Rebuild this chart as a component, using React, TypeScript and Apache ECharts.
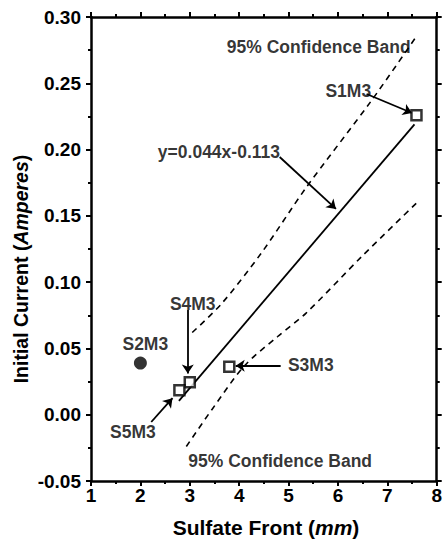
import React, { useEffect, useRef } from "react";
import * as echarts from "echarts";

// Measured samples: [sulfate front (mm), initial current (A)]
const squarePoints: [number, number][] = [
  [7.59, 0.2258], // S1M3
  [3.8, 0.0362], // S3M3
  [3.0, 0.0244], // S4M3
  [2.79, 0.0184], // S5M3
];
const circlePoints: [number, number][] = [[2.0, 0.039]]; // S2M3

// Fit line y=0.044x-0.113 as drawn (end points)
const fitLine: [number, number][] = [
  [2.78, 0.0105],
  [7.55, 0.219],
];

// 95% confidence bands
const upperBand: [number, number][] = [
  [3.05, 0.062],
  [3.65, 0.084],
  [4.45, 0.122],
  [5.35, 0.171],
  [6.68, 0.237],
  [7.6, 0.286],
];
const lowerBand: [number, number][] = [
  [2.93, -0.024],
  [3.45, 0.004],
  [4.11, 0.037],
  [4.78, 0.059],
  [5.35, 0.0765],
  [6.5, 0.12],
  [7.6, 0.16],
];

// Annotation texts at data positions
const annotationTexts: { name: string; value: [number, number] }[] = [
  { name: "95% Confidence Band", value: [5.61, 0.2774] },
  { name: "S1M3", value: [6.21, 0.2442] },
  { name: "y=0.044x-0.113", value: [3.59, 0.1982] },
  { name: "S4M3", value: [3.06, 0.0835] },
  { name: "S2M3", value: [2.1, 0.0533] },
  { name: "S3M3", value: [5.45, 0.0375] },
  { name: "S5M3", value: [1.85, -0.013] },
  { name: "95% Confidence Band", value: [4.83, -0.035] },
];

// Arrows: from text to target
const arrows: [number, number][][] = [
  [[6.58, 0.2419], [7.5, 0.2276]],
  [[4.82, 0.1944], [5.96, 0.1552]],
  [[2.96, 0.079], [2.96, 0.031]],
  [[4.84, 0.037], [3.93, 0.037]],
  [[2.22, -0.0055], [2.65, 0.0125]],
];

const xTicks = { min: 1, max: 8, interval: 1 };
const yTicks = { min: -0.05, max: 0.3, interval: 0.05 };

const FONT = "'Liberation Sans', Arial, Helvetica, sans-serif";

export default function App() {
  const ref = useRef<HTMLDivElement>(null);
  useEffect(() => {
    if (!ref.current) return;
    const chart = echarts.init(ref.current, null, { renderer: "svg" });
    const axisLine = { show: true, onZero: false, lineStyle: { color: "#000", width: 2.5 } };
    const axisTick = { show: true, inside: false, length: 5, lineStyle: { color: "#000", width: 2 } };
    const minorTick = { show: true, splitNumber: 2, length: 3, lineStyle: { color: "#000", width: 2 } };
    const option: any = {
      animation: false,
      backgroundColor: "#fff",
      grid: { left: 91, right: 4, top: 17, bottom: 65 },
      xAxis: [
        {
          type: "value",
          ...xTicks,
          position: "bottom",
          axisLine,
          axisTick,
          minorTick,
          splitLine: { show: false },
          axisLabel: { color: "#000", fontFamily: FONT, fontWeight: "bold", fontSize: 19, margin: 5 },
        },
        {
          type: "value",
          ...xTicks,
          position: "top",
          axisLine,
          axisTick,
          minorTick,
          splitLine: { show: false },
          axisLabel: { show: false },
        },
      ],
      yAxis: [
        {
          type: "value",
          ...yTicks,
          position: "left",
          axisLine,
          axisTick,
          minorTick,
          splitLine: { show: false },
          axisLabel: {
            color: "#000",
            fontFamily: FONT,
            fontWeight: "bold",
            fontSize: 19,
            margin: 10,
            formatter: (v: number) => v.toFixed(2),
          },
        },
        {
          type: "value",
          ...yTicks,
          position: "right",
          axisLine,
          axisTick,
          minorTick,
          splitLine: { show: false },
          axisLabel: { show: false },
        },
      ],
      graphic: [
        {
          type: "text",
          x: 266,
          y: 527,
          style: {
            text: "Sulfate Front ({i|mm})",
            fontFamily: FONT,
            fontWeight: "bold",
            fontSize: 21,
            fill: "#000",
            align: "center",
            verticalAlign: "middle",
            rich: { i: { fontStyle: "italic", fontWeight: "bold", fontSize: 21, fontFamily: FONT, fill: "#000" } },
          },
        },
        {
          type: "text",
          x: 21,
          y: 269,
          rotation: Math.PI / 2,
          style: {
            text: "Initial Current ({i|Amperes})",
            fontFamily: FONT,
            fontWeight: "bold",
            fontSize: 19.5,
            fill: "#000",
            align: "center",
            verticalAlign: "middle",
            rich: { i: { fontStyle: "italic", fontWeight: "bold", fontSize: 19.5, fontFamily: FONT, fill: "#000" } },
          },
        },
      ],
      series: [
        {
          type: "line",
          data: upperBand,
          showSymbol: false,
          smooth: 0.3,
          lineStyle: { color: "#000", width: 1.6, type: [6, 5] },
          z: 2,
        },
        {
          type: "line",
          data: lowerBand,
          showSymbol: false,
          smooth: 0.3,
          lineStyle: { color: "#000", width: 1.6, type: [6, 5] },
          z: 2,
        },
        {
          type: "line",
          data: fitLine,
          showSymbol: false,
          lineStyle: { color: "#000", width: 1.8 },
          z: 2,
        },
        {
          type: "lines",
          coordinateSystem: "cartesian2d",
          data: arrows.map((c) => ({ coords: c })),
          symbol: ["none", "arrow"],
          symbolSize: [0, 9],
          lineStyle: { color: "#000", width: 1.8, opacity: 1 },
          z: 3,
        },
        {
          type: "scatter",
          data: squarePoints,
          symbol: "rect",
          symbolSize: 10,
          itemStyle: { color: "#fff", borderColor: "#000", borderWidth: 2.5 },
          z: 4,
        },
        {
          type: "scatter",
          data: circlePoints,
          symbol: "circle",
          symbolSize: 13,
          itemStyle: { color: "#000" },
          z: 4,
        },
        {
          type: "scatter",
          data: annotationTexts,
          symbolSize: 0,
          silent: true,
          label: {
            show: true,
            position: "inside",
            formatter: "{b}",
            color: "#000",
            fontFamily: FONT,
            fontWeight: "bold",
            fontSize: 17.5,
          },
          z: 5,
        },
      ],
    };
    chart.setOption(option);
    return () => chart.dispose();
  }, []);
  return (
    <div
      ref={ref}
      style={{ position: "fixed", left: 0, top: 0, width: 445, height: 546, background: "#fff" }}
    />
  );
}
